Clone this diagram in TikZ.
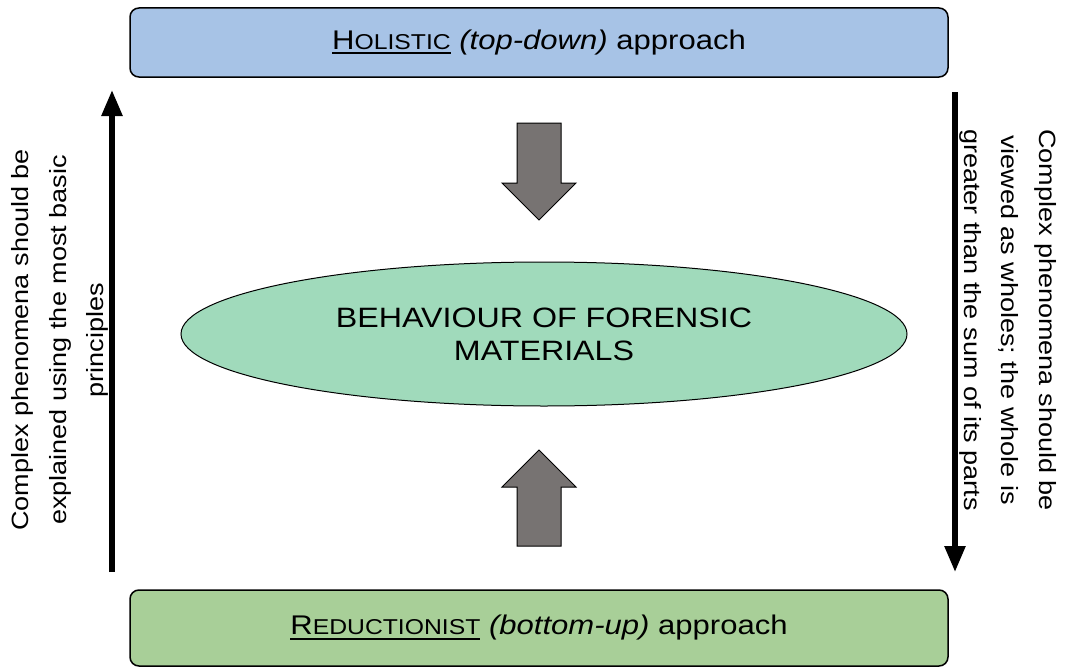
\documentclass[tikz,border=0pt]{standalone}
\usepackage{fontspec}
\setmainfont{Liberation Sans}[FakeStretch=1.15]
\usetikzlibrary{shapes.geometric,arrows.meta}
\definecolor{topfill}{HTML}{A7C3E6}
\definecolor{botfill}{HTML}{A8CF98}
\definecolor{ellfill}{HTML}{A0DABB}
\definecolor{blockgray}{HTML}{777372}
% capital followed by reduced capitals
\newcommand{\fakesc}[2]{#1{\fontsize{21.5}{26}\selectfont #2}}
% heavier underline
\newcommand{\thickul}[1]{\setbox0\hbox{#1}\leavevmode\vtop{\box0\kern2.5pt\hrule height 2.2pt}}
\begin{document}
\begin{tikzpicture}[x=1pt,y=-1pt,
  approach/.style={draw=black,line width=1.5pt,rounded corners=9pt,minimum width=818pt,minimum height=69pt,font=\fontsize{27}{32}\selectfont},
  sidearrow/.style={line width=5.5pt,-{Triangle[width=20pt,length=26pt]}},
  sidetext/.style={align=center,font=\fontsize{23.5}{37.5}\selectfont},
  block/.style={draw=black,line width=1pt,fill=blockgray}]
\useasboundingbox (0,0) rectangle (1065,669);
% approach boxes
\node[approach,fill=topfill] (top) at (539,42.5) {\thickul{\fakesc{H}{OLISTIC}} \textit{(top-down)} approach};
\node[approach,fill=botfill,minimum height=76pt] (bot) at (539,628) {\thickul{\fakesc{R}{EDUCTIONIST}} \textit{(bottom-up)} approach};
% central subject
\node[ellipse,draw=black,line width=1pt,fill=ellfill,minimum width=726pt,minimum height=144pt,align=center,font=\fontsize{28}{33}\selectfont] (core) at (544,334) {BEHAVIOUR OF FORENSIC\\MATERIALS};
% block arrows
\draw[block] (517,123) -- (561,123) -- (561,183) -- (576,183) -- (539,220) -- (502,183) -- (517,183) -- cycle;
\draw[block] (517,546) -- (561,546) -- (561,487) -- (576,487) -- (539,450) -- (502,487) -- (517,487) -- cycle;
% side arrows
\coordinate (lb) at (112,572);
\coordinate (lt) at (112,90);
\coordinate (rt) at (955,92);
\coordinate (rb) at (955,572);
\draw[sidearrow] (lb) -- (lt);
\draw[sidearrow] (rt) -- (rb);
\node[sidetext,rotate=90] (ltext) at (60,340) {Complex phenomena should be\\explained using the most basic\\principles};
\node[sidetext,rotate=-90] (rtext) at (1008,320) {Complex phenomena should be\\viewed as wholes; the whole is\\greater than the sum of its parts};
\end{tikzpicture}
\end{document}
